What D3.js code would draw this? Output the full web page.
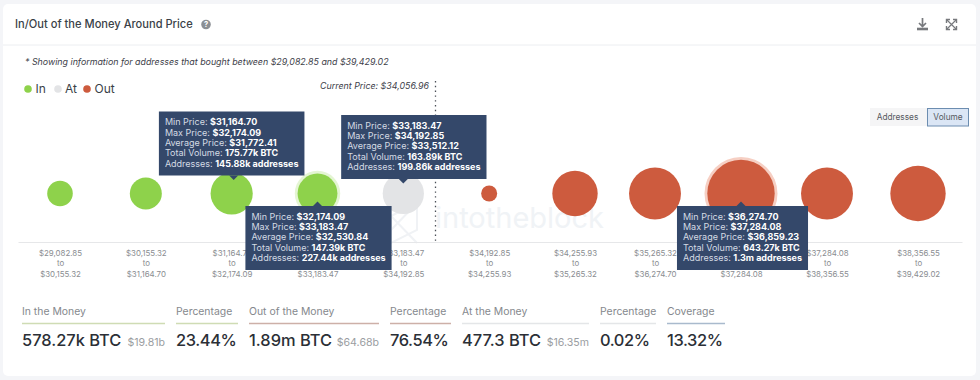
<!DOCTYPE html>
<html>
<head>
<meta charset="utf-8">
<script src="https://cdn.jsdelivr.net/npm/d3@7"></script>
<style>
  html, body { margin: 0; padding: 0; background: #f4f5f8; overflow: hidden; }
  svg { display: block; font-family: Inter, sans-serif; }
</style>
</head>
<body>
<div id="chart"></div>
<script>
// Values
const binLow = ['$29,082.85', '$30,155.32', '$31,164.70', '$32,174.09', '$33,183.47', '$34,192.85', '$34,255.93', '$35,265.32', '$36,274.70', '$37,284.08', '$38,356.55'];
const binHigh = ['$30,155.32', '$31,164.70', '$32,174.09', '$33,183.47', '$34,192.85', '$34,255.93', '$35,265.32', '$36,274.70', '$37,284.08', '$38,356.55', '$39,429.02'];
const volumes = [28, 70, 175.77, 147.39, 163.89, 0.4773, 219, 322, 643.27, 322, 384]; // k BTC
const status = ['In', 'In', 'In', 'In', 'At', 'Out', 'Out', 'Out', 'Out', 'Out', 'Out'];
const hovered = [3, 8];

const legendItems = ['In', 'At', 'Out'];
const tipBins = [2, 4, 3, 8];
const tipAverage = ['$31,772.41', '$33,512.12', '$32,530.84', '$36,859.23'];
const tipVolume = ['175.77k BTC', '163.89k BTC', '147.39k BTC', '643.27k BTC'];
const tipAddresses = ['145.88k addresses', '199.86k addresses', '227.44k addresses', '1.3m addresses'];

const statLabels = ['In the Money', 'Percentage', 'Out of the Money', 'Percentage', 'At the Money', 'Percentage', 'Coverage'];
const statValues = ['578.27k BTC', '23.44%', '1.89m BTC', '76.54%', '477.3 BTC', '0.02%', '13.32%'];
const statSub = ['$19.81b', '', '$64.68b', '', '$16.35m', '', ''];

const COLORS = { In: '#8ed24b', At: '#e3e4e6', Out: '#cd5b3e' };
const HALO = { In: '#e4f5d3', At: '#f2f2f3', Out: '#f6cfc3' };
const statLine = ['#cfdcb4', '#cfdcb4', '#cdb0a8', '#cdb0a8', '#e4e6e8', '#e4e6e8', '#a9bacd'];

const width = 980, height = 380;
const svg = d3.select('#chart').append('svg').attr('width', width).attr('height', height);

// Card
svg.append('rect').attr('x', 3).attr('y', 4).attr('width', 973).attr('height', 372).attr('rx', 5)
    .attr('fill', '#fff');
svg.append('line').attr('x1', 3).attr('x2', 976).attr('y1', 45).attr('y2', 45)
    .attr('stroke', '#eceef1');

svg.append('text').attr('x', 15).attr('y', 28)
    .attr('font-size', 11.1).attr('font-weight', 500).attr('fill', '#3a3f47')
    .text('In/Out of the Money Around Price');

// Help icon
svg.append('circle').attr('cx', 206).attr('cy', 24.5).attr('r', 4.8).attr('fill', '#8b8f94');
svg.append('text').attr('x', 206).attr('y', 27.4).attr('text-anchor', 'middle')
    .attr('font-size', 7.5).attr('font-weight', 700).attr('fill', '#fff').text('?');

// Download and expand icons
const icons = svg.append('g').attr('fill', 'none').attr('stroke', '#77797d').attr('stroke-width', 1.7);
icons.append('path').attr('d', 'M922.5 18v8M919 23l3.5 3.5 3.5-3.5');
icons.append('path').attr('d', 'M917 29h11').attr('stroke-width', 2.6);
icons.append('path').attr('d', 'M947 20l9 9M956 20l-9 9').attr('stroke-width', 1.2);
icons.append('path').attr('d', 'M946.5 23v-3.5h3.5M953 19.5h3.5V23M956.5 26v3.5H953M950 29.5h-3.5V26').attr('stroke-width', 1.4);

svg.append('text').attr('x', 25).attr('y', 65)
    .attr('font-size', 8.85).attr('font-style', 'italic').attr('fill', '#3c4048')
    .text('* Showing information for addresses that bought between $29,082.85 and $39,429.02');

// Legend
const legendDotX = d3.scalePoint().domain(legendItems).range([28, 87]);
const legend = svg.append('g').selectAll('g').data(legendItems).enter().append('g');
legend.append('circle').attr('cx', d => legendDotX(d) - (d === 'At' ? -0.5 : 0)).attr('cy', 89).attr('r', 3.8)
    .attr('fill', d => COLORS[d]);
legend.append('text').attr('x', d => legendDotX(d) + 7.5).attr('y', 93.4)
    .attr('font-size', 12).attr('fill', '#3a3f47').text(d => d);

// Watermark
const mark = svg.append('g');
mark.append('path').attr('d', 'M391 216l26-13v27l-26 13zM391 216l26 27M417 203l-26 27')
    .attr('fill', 'none').attr('stroke', '#f0f2f5').attr('stroke-width', 2);
mark.append('text').attr('x', 435).attr('y', 228)
    .attr('font-size', 29).attr('fill', '#f0f3f6').text('intotheblock');

// Scales, bins are not evenly spaced in the source
const x = d3.scaleLinear()
    .domain([-0.49, 0, 6, 7, 9, 10, 10.48])
    .range([18, 60, 575, 655, 827, 918, 962]);
const r = d3.scaleSqrt().domain([0.4773, 643.27]).range([8, 33.7]);
const cy = 193.5;

// Axis
const axis = svg.append('g').attr('transform', 'translate(0,242)')
    .call(d3.axisBottom(x).tickValues(d3.range(binLow.length)).tickSize(0).tickFormat(''));
axis.select('.domain').attr('stroke', '#e6e7e9');
axis.selectAll('.tick line').remove();
axis.selectAll('.tick text').each(function (i) {
    const t = d3.select(this).attr('y', 0).attr('dy', null)
        .attr('font-family', 'Inter, sans-serif').attr('font-size', 7.9).attr('fill', '#8a8d91');
    [binLow[i], 'to', binHigh[i]].forEach((s, k) => {
        t.append('tspan').attr('x', 0).attr('y', 14 + k * 10.4).text(s);
    });
});

// Current price marker
svg.append('line').attr('x1', 435.5).attr('x2', 435.5).attr('y1', 81).attr('y2', 242)
    .attr('stroke', '#4a4f57').attr('stroke-width', 1.3).attr('stroke-dasharray', '1.4 3.4');
svg.append('text').attr('x', 429).attr('y', 88.5).attr('text-anchor', 'end')
    .attr('font-size', 8.85).attr('font-style', 'italic').attr('fill', '#3c4048')
    .text('Current Price: $34,056.96');

// Bubbles
const bubbles = svg.append('g').selectAll('g').data(volumes).enter().append('g')
    .attr('transform', (d, i) => `translate(${x(i)},${cy})`);
bubbles.filter((d, i) => hovered.includes(i)).append('circle')
    .attr('r', d => r(d) + 2.8)
    .attr('fill', d => HALO[status[volumes.indexOf(d)]]);
bubbles.append('circle').attr('r', d => r(d)).attr('fill', (d, i) => COLORS[status[i]]);

// Toggle buttons
const btn = svg.append('g').attr('font-size', 8.3).attr('text-anchor', 'middle').attr('fill', '#55595f');
btn.append('rect').attr('x', 870).attr('y', 108).attr('width', 57).attr('height', 18).attr('fill', '#f5f5f6');
btn.append('text').attr('x', 897.5).attr('y', 120).text('Addresses');
btn.append('rect').attr('x', 927.5).attr('y', 108.5).attr('width', 41).attr('height', 17.5)
    .attr('fill', '#dbe6f5').attr('stroke', '#6c8db0').attr('stroke-width', 1);
btn.append('text').attr('x', 948).attr('y', 120).text('Volume');

// Tooltips, two above and two below their bubble
tipBins.forEach((bin, k) => {
    const above = k < 2;
    const boxH = 64;
    const boxY = above ? [111.5, 115][k] : 206;
    const tip = svg.append('g');
    const rows = [
        ['Min Price: ', binLow[bin]],
        ['Max Price: ', binHigh[bin]],
        ['Average Price: ', tipAverage[k]],
        ['Total Volume: ', tipVolume[k]],
        ['Addresses: ', tipAddresses[k]]
    ];
    const box = tip.append('rect').attr('y', boxY).attr('height', boxH).attr('fill', '#34486a');
    const arrow = tip.append('path').attr('fill', '#34486a');
    const label = tip.append('g').attr('font-size', 9);
    const texts = rows.map((row, j) => {
        const t = label.append('text').attr('y', boxY + 13.7 + j * 10.35).attr('fill', '#d5dbe4');
        t.append('tspan').text(row[0]);
        t.append('tspan').attr('font-weight', 700).attr('fill', '#fff').text(row[1]);
        return t;
    });
    const textW = d3.max(texts, t => t.node().getComputedTextLength());
    const boxW = textW + 12;
    const left = x(bin) - boxW / 2 + [0, 10.5, 1, 1.5][k];
    box.attr('x', left).attr('width', boxW);
    texts.forEach(t => t.attr('x', left + 6));
    const ax = x(bin) + (k === 0 ? 2 : 0);
    arrow.attr('d', above
        ? `M${ax - 4.5} ${boxY + boxH}L${ax} ${boxY + boxH + 4.5}L${ax + 4.5} ${boxY + boxH}Z`
        : `M${ax - 4.5} ${boxY}L${ax} ${boxY - 4.5}L${ax + 4.5} ${boxY}Z`);
});

// Stats row
const statLeft = d3.scaleOrdinal().domain(d3.range(7)).range([22, 176, 249, 390, 462, 600, 667]);
const statRight = d3.scaleOrdinal().domain(d3.range(7)).range([165, 238, 379, 451, 589, 656, 725]);
const stats = svg.append('g').selectAll('g').data(statLabels).enter().append('g');
stats.append('text').attr('x', (d, i) => statLeft(i)).attr('y', 315)
    .attr('font-size', 10.4).attr('fill', '#85888d').text(d => d);
stats.append('line')
    .attr('x1', (d, i) => statLeft(i)).attr('x2', (d, i) => statRight(i))
    .attr('y1', 323.5).attr('y2', 323.5)
    .attr('stroke', (d, i) => statLine[i]).attr('stroke-width', 1.5);
stats.append('text').attr('x', (d, i) => statLeft(i)).attr('y', 346)
    .attr('font-size', 16.4).attr('font-weight', 500).attr('fill', '#2b2f36')
    .attr('letter-spacing', (d, i) => statValues[i].endsWith('%') ? -0.4 : 0)
    .text((d, i) => statValues[i]);
stats.append('text').attr('x', (d, i) => statRight(i)).attr('y', 346).attr('text-anchor', 'end')
    .attr('font-size', 10.6).attr('fill', '#9a9da1')
    .text((d, i) => statSub[i]);
</script>
</body>
</html>
